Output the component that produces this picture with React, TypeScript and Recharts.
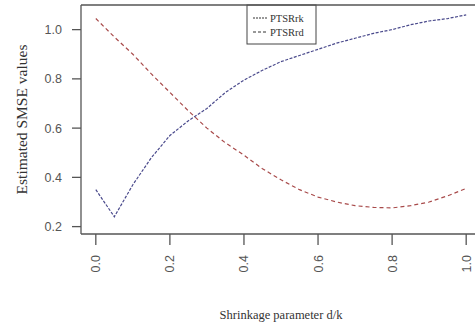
import React from "react"
import {
  LineChart, Line, XAxis, YAxis, Label, ReferenceLine,
} from "recharts"

const shrinkage = [0, 0.05, 0.1, 0.15, 0.2, 0.25, 0.3, 0.35, 0.4, 0.45, 0.5, 0.55, 0.6, 0.65, 0.7, 0.75, 0.8, 0.85, 0.9, 0.95, 1.0]
const ptsrRk = [0.35, 0.24, 0.37, 0.48, 0.57, 0.63, 0.68, 0.745, 0.795, 0.835, 0.87, 0.895, 0.92, 0.945, 0.965, 0.985, 1.0, 1.02, 1.035, 1.045, 1.06]
const ptsrRd = [1.045, 0.97, 0.9, 0.82, 0.745, 0.67, 0.6, 0.54, 0.49, 0.435, 0.39, 0.35, 0.32, 0.3, 0.285, 0.278, 0.276, 0.285, 0.3, 0.325, 0.355]
const xTicks = [0, 0.2, 0.4, 0.6, 0.8, 1.0]
const yTicks = [0.2, 0.4, 0.6, 0.8, 1.0]
const xDomain = [-0.04, 1.04]
const yDomain = [0.17, 1.1]

const data = shrinkage.map((x, i) => ({ x, rk: ptsrRk[i], rd: ptsrRd[i] }))

const axisColor = "#555"
const tickFont = "'Liberation Sans', Arial, sans-serif"
const serif = "'Liberation Serif', 'Times New Roman', serif"

function RotatedTick({ x, y, payload }: { x?: number; y?: number; payload?: { value: number } }) {
  return (
    <g transform={`translate(${x},${y})`}>
      <text
        transform="rotate(-90)"
        textAnchor="end"
        dy="0.36em"
        fill={axisColor}
        fontSize={12.5}
        fontFamily={tickFont}
      >
        {payload!.value.toFixed(1)}
      </text>
    </g>
  )
}

function Legend() {
  // legend box in the top-middle of the plot, like R's legend()
  return (
    <g fontFamily={serif} fontSize={10.5} fill="#333">
      <rect x={247} y={5} width={69} height={39} fill="#fff" stroke="#444" strokeWidth={1} />
      <line x1={253} y1={18} x2={267} y2={18} stroke="#333" strokeWidth={1} strokeDasharray="2 1" />
      <text x={270} y={21.5}>PTSRrk</text>
      <line x1={253} y1={32} x2={267} y2={32} stroke="#333" strokeWidth={1} strokeDasharray="3 2" />
      <text x={270} y={35.5}>PTSRrd</text>
    </g>
  )
}

export default function App() {
  return (
    <div style={{ position: "absolute", left: 0, top: 0, width: 475, height: 326, overflow: "hidden", background: "#fff" }}>
      <LineChart
        width={500}
        height={326}
        data={data}
        margin={{ top: 5, right: 19, left: 0, bottom: 0 }}
      >
        <XAxis
          dataKey="x"
          type="number"
          domain={xDomain}
          ticks={xTicks}
          allowDataOverflow
          height={92}
          tickSize={11}
          tickMargin={10}
          stroke={axisColor}
          strokeWidth={1.3}
          tick={<RotatedTick />}
        >
          <Label
            value="Shrinkage parameter d/k"
            position="insideBottom"
            offset={7}
            style={{ fontFamily: serif, fontSize: 12.5, fill: "#333" }}
          />
        </XAxis>
        <YAxis
          type="number"
          domain={yDomain}
          ticks={yTicks}
          allowDataOverflow
          width={81}
          tickSize={9}
          tickMargin={10}
          stroke={axisColor}
          strokeWidth={1.3}
          tickFormatter={(v: number) => v.toFixed(1)}
          tick={{ fill: axisColor, fontSize: 12.5, fontFamily: tickFont }}
        >
          <Label
            value="Estimated SMSE values"
            angle={-90}
            position="insideLeft"
            offset={21}
            style={{ fontFamily: serif, fontSize: 15.5, fill: "#333", textAnchor: "middle" }}
          />
        </YAxis>
        {/* top and right edges of the plot box */}
        <ReferenceLine y={yDomain[1]} stroke={axisColor} strokeWidth={1.3} ifOverflow="visible" />
        <ReferenceLine x={xDomain[1]} stroke={axisColor} strokeWidth={1.3} ifOverflow="visible" />
        <Line
          dataKey="rk"
          type="linear"
          stroke="#4a4a8c"
          strokeWidth={1.2}
          strokeDasharray="3 1.5"
          dot={false}
          isAnimationActive={false}
        />
        <Line
          dataKey="rd"
          type="linear"
          stroke="#a84a4a"
          strokeWidth={1.2}
          strokeDasharray="4 3"
          dot={false}
          isAnimationActive={false}
        />
        <Legend />
      </LineChart>
    </div>
  )
}
